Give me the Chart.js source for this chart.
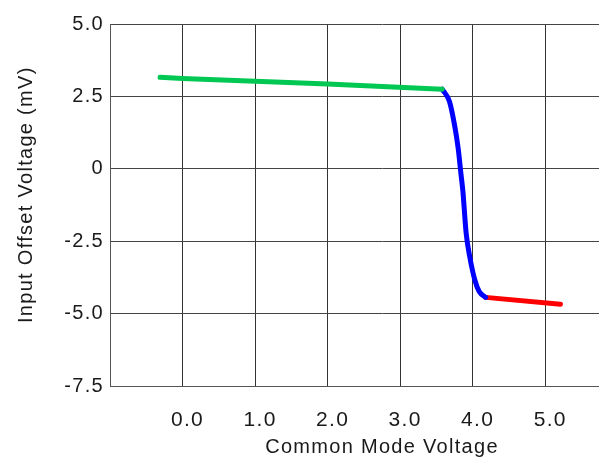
<!DOCTYPE html>
<html>
<head>
<meta charset="utf-8">
<script src="https://cdn.jsdelivr.net/npm/chart.js@4/dist/chart.umd.min.js"></script>
<style>
  html, body { margin: 0; padding: 0; background: #fff; overflow: hidden; }
  /* the original figure is cropped on the right, so the plot runs past the frame */
  #wrap { width: 599px; height: 460px; overflow: hidden; }
</style>
</head>
<body>
<div id="wrap"><canvas id="offsetChart" width="654" height="460"></canvas></div>
<script>
// below range (green), transition (blue), above range (red)
var greenX = [-0.31, 0.0, 2.0, 3.58]
var greenY = [3.16, 3.12, 2.93, 2.75]

var blueX = [3.58, 3.68, 3.75, 3.80, 3.84, 3.866, 3.875, 3.91, 3.96, 4.03, 4.09, 4.18]
var blueY = [2.75, 2.32, 1.51, 0.71, -0.21, -0.79, -1.08, -2.22, -3.04, -3.84, -4.24, -4.44]

var redX = [4.18, 5.21]
var redY = [-4.44, -4.68]

var xTicks = [-1, 0, 1, 2, 3, 4, 5]
var xTickLabels = ['', '0.0', '1.0', '2.0', '3.0', '4.0', '5.0']
var yTicks = [-7.5, -5, -2.5, 0, 2.5, 5]

function toPoints(xs, ys) {
  var pts = []
  for (var i = 0; i < xs.length; i++) {
    pts.push({ x: xs[i], y: ys[i] })
  }
  return pts
}

function series(xs, ys, color, smooth) {
  var ds = {
    data: toPoints(xs, ys),
    showLine: true,
    borderColor: color,
    backgroundColor: color,
    borderWidth: 5,
    borderCapStyle: 'round',
    borderJoinStyle: 'round',
    pointRadius: 0,
    tension: 0
  }
  if (smooth) {
    ds.cubicInterpolationMode = 'monotone'
  }
  return ds
}

var fontFamily = '"Liberation Sans", Arial, sans-serif'

// the original text is set quite wide, so space the letters out a bit
var wideText = {
  id: 'wideText',
  beforeDraw: function (chart) {
    chart.ctx.letterSpacing = '1.3px'
  }
}

new Chart(document.getElementById('offsetChart'), {
  type: 'scatter',
  data: {
    datasets: [
      series(greenX, greenY, '#00c853', false),
      series(blueX, blueY, '#0000ff', true),
      series(redX, redY, '#ff0000', false)
    ]
  },
  plugins: [wideText],
  options: {
    responsive: false,
    animation: false,
    devicePixelRatio: 1,
    layout: { padding: { top: 24, right: 0, bottom: 0, left: 0 } },
    plugins: {
      legend: { display: false },
      tooltip: { enabled: false }
    },
    scales: {
      x: {
        type: 'linear',
        min: -1,
        max: 6.5,
        afterBuildTicks: function (axis) {
          axis.ticks = xTicks.map(function (v) { return { value: v } })
        },
        afterFit: function (axis) { axis.height = 74 },
        grid: { color: '#333', lineWidth: 1, drawTicks: false },
        border: { color: '#555', width: 1 },
        ticks: {
          padding: 22,
          labelOffset: 5,
          color: '#1a1a1a',
          font: { family: fontFamily, size: 21 },
          maxRotation: 0,
          callback: function (v) {
            return xTickLabels[xTicks.indexOf(v)]
          }
        },
        title: {
          display: true,
          text: 'Common Mode Voltage',
          color: '#1a1a1a',
          font: { family: fontFamily, size: 20 },
          padding: { top: 0, bottom: 1 }
        }
      },
      y: {
        min: -7.5,
        max: 5,
        afterBuildTicks: function (axis) {
          axis.ticks = yTicks.map(function (v) { return { value: v } })
        },
        afterFit: function (axis) { axis.width = 110 },
        grid: { color: '#444', lineWidth: 1, drawTicks: false },
        border: { color: '#555', width: 1 },
        ticks: {
          padding: 6,
          color: '#1a1a1a',
          font: { family: fontFamily, size: 20 },
          callback: function (v) {
            return v === 0 ? '0' : v.toFixed(1)
          }
        },
        title: {
          display: true,
          text: '   Input Offset Voltage (mV)',
          color: '#1a1a1a',
          font: { family: fontFamily, size: 20 },
          padding: { top: 14, bottom: 0 }
        }
      }
    }
  }
})
</script>
</body>
</html>
